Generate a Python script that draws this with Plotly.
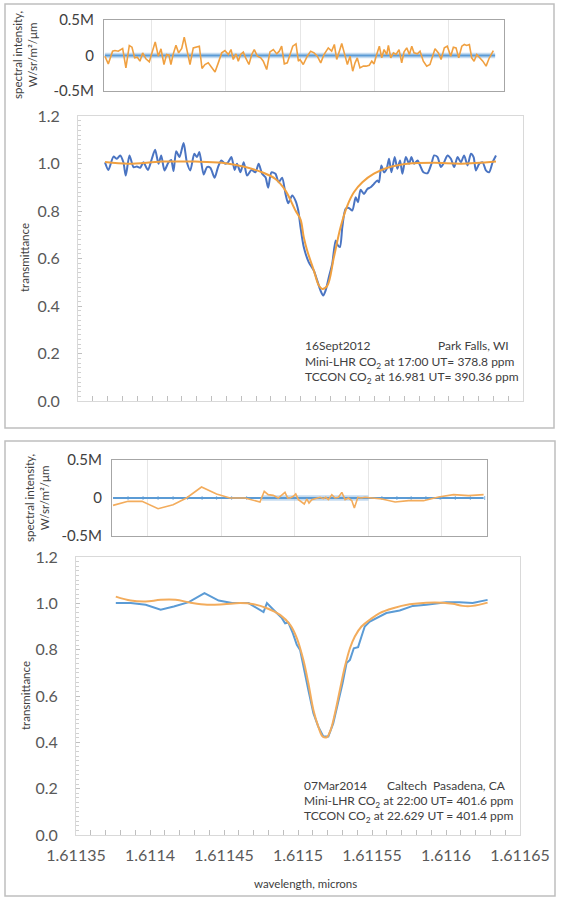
import plotly.graph_objects as go

W, H = 562, 900

# ---------------- 16 Sept 2012, Park Falls, WI ----------------
wl_meas_2012 = [
    1.6113682, 1.6113705, 1.6113739, 1.6113762, 1.6113784, 1.6113806, 1.6113822, 1.6113847, 1.6113874, 1.6113897,
    1.6113919, 1.6113941, 1.6113971, 1.6113998, 1.6114020, 1.6114043, 1.6114061, 1.6114083, 1.6114110, 1.6114128,
    1.6114144, 1.6114162, 1.6114184, 1.6114212, 1.6114234, 1.6114257, 1.6114284, 1.6114302, 1.6114318, 1.6114347,
    1.6114370, 1.6114392, 1.6114421, 1.6114444, 1.6114466, 1.6114493, 1.6114512, 1.6114534, 1.6114556, 1.6114572,
    1.6114595, 1.6114617, 1.6114640, 1.6114669, 1.6114696, 1.6114718, 1.6114741, 1.6114764, 1.6114782, 1.6114804,
    1.6114831, 1.6114853, 1.6114876, 1.6114899, 1.6114917, 1.6114944, 1.6114966, 1.6114985,
    1.6115000, 1.6115022, 1.6115056, 1.6115090, 1.6115113, 1.6115135, 1.6115153, 1.6115169, 1.6115191, 1.6115214,
    1.6115237, 1.6115252, 1.6115266, 1.6115282, 1.6115304, 1.6115326, 1.6115349, 1.6115372, 1.6115387, 1.6115405,
    1.6115428, 1.6115451, 1.6115473, 1.6115495, 1.6115518, 1.6115529, 1.6115545, 1.6115563, 1.6115581, 1.6115597,
    1.6115613, 1.6115635, 1.6115653, 1.6115671, 1.6115687, 1.6115710, 1.6115732, 1.6115748, 1.6115766, 1.6115789,
    1.6115806, 1.6115829, 1.6115856, 1.6115883, 1.6115901, 1.6115924, 1.6115946, 1.6115968, 1.6115991, 1.6116014,
    1.6116036, 1.6116059, 1.6116081, 1.6116103, 1.6116126, 1.6116149, 1.6116167, 1.6116182, 1.6116205, 1.6116228,
    1.6116250, 1.6116272, 1.6116295, 1.6116318]
trans_meas_2012 = [
    1.005, 0.973, 1.029, 1.020, 1.034, 1.005, 0.949, 1.034, 0.985, 0.987,
    0.982, 1.005, 0.973, 1.020, 1.058, 0.999, 1.034, 0.971, 1.005, 1.015,
    0.968, 1.052, 1.027, 1.086, 1.005, 0.971, 1.041, 1.027, 1.048, 0.954,
    0.985, 0.982, 0.940, 0.985, 1.013, 0.999, 1.005, 1.027, 0.973, 0.999,
    0.963, 1.005, 0.949, 0.973, 0.963, 0.999, 0.957, 0.942, 0.898, 0.963,
    0.957, 0.921, 0.940, 0.872, 0.833, 0.865, 0.844, 0.802,
    0.732, 0.648, 0.584, 0.549, 0.507, 0.465, 0.444, 0.465, 0.521, 0.578,
    0.676, 0.655, 0.648, 0.732, 0.809, 0.813, 0.802, 0.858, 0.837, 0.889,
    0.872, 0.893, 0.900, 0.914, 0.928, 0.921, 0.992, 0.963, 0.978, 1.020,
    0.963, 1.027, 0.978, 1.013, 0.957, 1.027, 0.999, 1.027, 0.999, 1.013,
    0.992, 0.963, 0.959, 0.999, 1.034, 1.027, 0.985, 1.005, 1.034, 1.020,
    0.985, 1.027, 1.005, 1.034, 0.992, 1.041, 1.027, 0.971, 0.999, 1.005,
    0.971, 0.963, 1.005, 1.034]
wl_model_2012 = [
    1.6113682, 1.6113840, 1.6114066, 1.6114291, 1.6114471, 1.6114628, 1.6114741, 1.6114831, 1.6114899, 1.6114966,
    1.6115000, 1.6115022, 1.6115045, 1.6115090, 1.6115124, 1.6115147, 1.6115181, 1.6115225, 1.6115270, 1.6115316,
    1.6115360, 1.6115417, 1.6115495, 1.6115586, 1.6115721, 1.6115901, 1.6116081, 1.6116318]
trans_model_2012 = [
    1.006, 0.999, 1.008, 1.008, 1.003, 0.985, 0.963, 0.935, 0.886, 0.802,
    0.765, 0.690, 0.634, 0.549, 0.486, 0.472, 0.486, 0.605, 0.732, 0.823,
    0.879, 0.921, 0.957, 0.982, 0.999, 1.003, 0.999, 1.008]
wl_resid_2012 = [
    1.6113682, 1.6113705, 1.6113734, 1.6113750, 1.6113772, 1.6113802, 1.6113824, 1.6113847, 1.6113865, 1.6113883,
    1.6113901, 1.6113919, 1.6113937, 1.6113959, 1.6113982, 1.6114005, 1.6114022, 1.6114043, 1.6114061, 1.6114081,
    1.6114099, 1.6114115, 1.6114128, 1.6114144, 1.6114162, 1.6114180, 1.6114201, 1.6114218, 1.6114239, 1.6114257,
    1.6114279, 1.6114302, 1.6114320, 1.6114338, 1.6114358, 1.6114380, 1.6114403, 1.6114426, 1.6114448, 1.6114471,
    1.6114493, 1.6114516, 1.6114534, 1.6114549, 1.6114568, 1.6114583, 1.6114599, 1.6114617, 1.6114633, 1.6114655,
    1.6114674, 1.6114691, 1.6114712, 1.6114735, 1.6114752, 1.6114775, 1.6114797, 1.6114820, 1.6114843, 1.6114860,
    1.6114876, 1.6114894, 1.6114914, 1.6114933, 1.6114951, 1.6114973, 1.6114989,
    1.6115000, 1.6115022, 1.6115049, 1.6115072, 1.6115095, 1.6115117, 1.6115140, 1.6115162, 1.6115191, 1.6115214,
    1.6115232, 1.6115248, 1.6115266, 1.6115282, 1.6115299, 1.6115320, 1.6115338, 1.6115356, 1.6115372, 1.6115387,
    1.6115405, 1.6115428, 1.6115446, 1.6115468, 1.6115485, 1.6115500, 1.6115518, 1.6115536, 1.6115552, 1.6115568,
    1.6115586, 1.6115597, 1.6115613, 1.6115631, 1.6115649, 1.6115669, 1.6115687, 1.6115703, 1.6115721, 1.6115739,
    1.6115755, 1.6115770, 1.6115793, 1.6115811, 1.6115833, 1.6115856, 1.6115878, 1.6115897, 1.6115912, 1.6115935,
    1.6115953, 1.6115975, 1.6115995, 1.6116018, 1.6116036, 1.6116054, 1.6116072, 1.6116093, 1.6116110, 1.6116126,
    1.6116144, 1.6116160, 1.6116176, 1.6116194, 1.6116216, 1.6116235, 1.6116257, 1.6116277, 1.6116306]
resid_2012_M = [
    -0.010, -0.118, 0.061, 0.070, 0.061, 0.099, -0.174, 0.141, 0.117, -0.033,
    -0.024, -0.080, 0.037, -0.047, -0.089, 0.070, 0.192, -0.010, 0.094, -0.127,
    0.014, 0.004, -0.127, 0.023, 0.145, 0.037, 0.099, 0.258, 0.037, -0.127,
    0.107, 0.117, 0.131, -0.183, -0.127, -0.104, -0.165, -0.231, -0.104, 0.037,
    0.070, 0.014, 0.084, -0.056, 0.023, -0.080, 0.014, 0.047, -0.033, -0.127,
    0.014, 0.084, -0.010, -0.033, -0.080, -0.197, 0.051, 0.084, 0.023, 0.061,
    0.131, -0.118, -0.104, 0.014, 0.131, 0.164, -0.080,
    -0.056, -0.127, -0.010, 0.061, 0.037, -0.010, -0.104, 0.014, 0.107, 0.061,
    0.155, -0.056, 0.061, 0.169, 0.037, -0.127, -0.010, -0.221, -0.104, -0.033,
    -0.174, -0.150, -0.150, -0.137, -0.080, -0.118, 0.014, 0.131, -0.033, 0.084,
    0.014, 0.141, -0.033, 0.037, 0.014, 0.084, -0.104, 0.051, 0.107, 0.014,
    0.131, 0.037, 0.023, 0.061, -0.080, -0.150, -0.127, 0.014, 0.094, 0.037,
    -0.056, 0.107, 0.131, -0.010, 0.117, 0.107, -0.033, 0.131, 0.155, 0.141,
    0.155, -0.033, -0.080, 0.014, -0.033, -0.080, -0.150, -0.042, 0.070]
zero_wl_2012 = [1.6113682, 1.6116318]
zero_val_2012 = [0.0, 0.0]
band_halfwidth_2012_M = 0.04
resid_range_2012 = [1.6113676, 1.6116378]

# ---------------- 07 Mar 2014, Caltech Pasadena, CA ----------------
wl_meas_2014 = [
    1.6113769, 1.6113870, 1.6113971, 1.6114072, 1.6114161, 1.6114262, 1.6114368, 1.6114464, 1.6114554, 1.6114666,
    1.6114767, 1.6114790, 1.6114834, 1.6114891, 1.6114913, 1.6114935, 1.6114965, 1.6114992, 1.6115014, 1.6115036,
    1.6115070, 1.6115104, 1.6115137, 1.6115171, 1.6115205, 1.6115238, 1.6115272, 1.6115301, 1.6115328, 1.6115351,
    1.6115377, 1.6115406, 1.6115429, 1.6115451, 1.6115485, 1.6115530, 1.6115597, 1.6115687, 1.6115776, 1.6115867,
    1.6116001, 1.6116091, 1.6116180, 1.6116281]
trans_meas_2014 = [
    1.001, 1.001, 0.994, 0.972, 0.986, 1.005, 1.044, 1.012, 1.001, 1.001,
    0.962, 1.001, 0.972, 0.936, 0.914, 0.917, 0.871, 0.821, 0.799, 0.727,
    0.626, 0.526, 0.468, 0.425, 0.425, 0.482, 0.569, 0.655, 0.742, 0.756,
    0.806, 0.811, 0.857, 0.900, 0.921, 0.936, 0.958, 0.969, 0.989, 0.994,
    1.005, 1.005, 1.001, 1.015]
wl_model_2014 = [
    1.6113769, 1.6113870, 1.6113971, 1.6114072, 1.6114173, 1.6114274, 1.6114386, 1.6114498, 1.6114610, 1.6114700,
    1.6114790, 1.6114879, 1.6114947, 1.6114992, 1.6115036, 1.6115070, 1.6115104, 1.6115137, 1.6115167, 1.6115194,
    1.6115221, 1.6115250, 1.6115283, 1.6115317, 1.6115351, 1.6115384, 1.6115429, 1.6115485, 1.6115552, 1.6115642,
    1.6115754, 1.6115867, 1.6115978, 1.6116046, 1.6116113, 1.6116180, 1.6116281]
trans_model_2014 = [
    1.029, 1.012, 1.008, 1.015, 1.015, 1.003, 0.994, 0.996, 1.001, 0.996,
    0.979, 0.950, 0.907, 0.850, 0.756, 0.655, 0.540, 0.468, 0.425, 0.422,
    0.454, 0.526, 0.626, 0.727, 0.806, 0.857, 0.900, 0.929, 0.958, 0.979,
    0.996, 1.003, 1.003, 0.998, 0.989, 0.989, 1.003]
wl_resid_2014 = [
    1.6113766, 1.6113868, 1.6113963, 1.6114072, 1.6114174, 1.6114265, 1.6114367, 1.6114469, 1.6114560, 1.6114662,
    1.6114764, 1.6114793, 1.6114820, 1.6114854, 1.6114888, 1.6114912, 1.6114934, 1.6114952, 1.6114968, 1.6114991,
    1.6115007, 1.6115025, 1.6115048, 1.6115065, 1.6115082, 1.6115097, 1.6115116, 1.6115143, 1.6115172, 1.6115195,
    1.6115211, 1.6115229, 1.6115252, 1.6115274, 1.6115297, 1.6115320, 1.6115342, 1.6115365, 1.6115388, 1.6115405,
    1.6115429, 1.6115451, 1.6115478, 1.6115524, 1.6115592, 1.6115682, 1.6115773, 1.6115875, 1.6115977, 1.6116079,
    1.6116181, 1.6116283]
resid_2014_M = [
    -0.097, -0.044, -0.044, -0.141, -0.088, 0.000, 0.145, 0.053, 0.000, 0.000,
    -0.053, 0.088, 0.044, 0.035, 0.000, 0.044, 0.074, 0.000, 0.000, 0.022,
    0.053, -0.022, -0.053, -0.079, -0.013, -0.066, -0.022, -0.009, 0.009, -0.009,
    0.009, -0.022, 0.044, 0.000, 0.009, 0.074, -0.022, 0.000, -0.035, -0.132,
    0.009, 0.000, 0.009, 0.000, -0.013, -0.053, -0.035, -0.035, 0.013, 0.044,
    0.031, 0.044]
zero_wl_2014 = [1.6113766, 1.6116283]
zero_val_2014 = [0.0, 0.0]
errbar_wl_2014 = [
    1.6113868, 1.6113970, 1.6114072, 1.6114174, 1.6114272, 1.6114371, 1.6114469, 1.6114571, 1.6114673,
    1.6115592, 1.6115694, 1.6115791, 1.6115891, 1.6115988, 1.6116091, 1.6116193, 1.6116290]
errbar_halfwidth_2014_M = 0.025
band_wl_2014 = [1.6114776, 1.6115501]
band_halfwidth_2014_M = 0.035
resid_range_2014 = [1.6113759, 1.6116306]

# ---------------- axes / labels ----------------
x_range_main = [1.61135, 1.61165]
x_tick0 = 1.61135
x_dtick = 0.00005
x_minor_dtick = 0.00001
trans_range = [0, 1.2]
trans_dtick = 0.2
resid_range_M = [-0.5, 0.5]
resid_tickvals = [-0.5, 0, 0.5]
resid_ticktext = ['-0.5M', '0', '0.5M']

notes_2012 = ['16Sept2012', 'Park Falls, WI',
              'Mini-LHR CO<sub>2</sub> at 17:00 UT= 378.8 ppm',
              'TCCON CO<sub>2</sub> at 16.981 UT= 390.36 ppm']
notes_2014 = ['07Mar2014', 'Caltech  Pasadena, CA',
              'Mini-LHR CO<sub>2</sub> at 22:00 UT= 401.6 ppm',
              'TCCON CO<sub>2</sub> at 22.629 UT = 401.4 ppm']

FONT = 'Lato, Open Sans, sans-serif'
BLUE_DARK = '#4A74C2'
BLUE = '#5B9BD5'
ORANGE = '#F0A040'
ORANGE_LIGHT = '#F3AC5C'
BAND = 'rgba(157,195,230,0.6)'


def dx(a, b):
    return [a / W, b / W]


def dy(top, bottom):
    return [1 - bottom / H, 1 - top / H]


def px(x):
    return x / W


def py(y):
    return 1 - y / H


fig = go.Figure()

# --- 2012 residual panel ---
fig.add_trace(go.Scatter(
    x=[zero_wl_2012[0], zero_wl_2012[1], zero_wl_2012[1], zero_wl_2012[0]],
    y=[-band_halfwidth_2012_M, -band_halfwidth_2012_M, band_halfwidth_2012_M, band_halfwidth_2012_M],
    fill='toself', fillcolor=BAND, line=dict(width=0), mode='lines',
    xaxis='x', yaxis='y', hoverinfo='skip'))
fig.add_trace(go.Scatter(x=zero_wl_2012, y=zero_val_2012, mode='lines',
                         line=dict(color=BLUE, width=2), xaxis='x', yaxis='y'))
fig.add_trace(go.Scatter(x=wl_resid_2012, y=resid_2012_M, mode='lines',
                         line=dict(color=ORANGE, width=1.6), xaxis='x', yaxis='y'))

# --- 2012 transmittance panel ---
fig.add_trace(go.Scatter(x=wl_meas_2012, y=trans_meas_2012, mode='lines',
                         line=dict(color=BLUE_DARK, width=2, shape='spline', smoothing=0.7),
                         xaxis='x2', yaxis='y2'))
fig.add_trace(go.Scatter(x=wl_model_2012, y=trans_model_2012, mode='lines',
                         line=dict(color=ORANGE, width=2, shape='spline', smoothing=1.0),
                         xaxis='x2', yaxis='y2'))

# --- 2014 residual panel ---
fig.add_trace(go.Scatter(
    x=[band_wl_2014[0], band_wl_2014[1], band_wl_2014[1], band_wl_2014[0]],
    y=[-band_halfwidth_2014_M, -band_halfwidth_2014_M, band_halfwidth_2014_M, band_halfwidth_2014_M],
    fill='toself', fillcolor=BAND, line=dict(width=0), mode='lines',
    xaxis='x3', yaxis='y3', hoverinfo='skip'))
fig.add_trace(go.Scatter(x=errbar_wl_2014, y=[0.0] * len(errbar_wl_2014), mode='markers',
                         marker=dict(size=1, color=BLUE, opacity=0),
                         error_y=dict(type='constant', value=errbar_halfwidth_2014_M,
                                      color='#9DC3E6', thickness=1.2, width=0),
                         xaxis='x3', yaxis='y3'))
fig.add_trace(go.Scatter(x=zero_wl_2014, y=zero_val_2014, mode='lines',
                         line=dict(color=BLUE, width=2), xaxis='x3', yaxis='y3'))
fig.add_trace(go.Scatter(x=wl_resid_2014, y=resid_2014_M, mode='lines',
                         line=dict(color=ORANGE_LIGHT, width=1.6), xaxis='x3', yaxis='y3'))

# --- 2014 transmittance panel ---
fig.add_trace(go.Scatter(x=wl_meas_2014, y=trans_meas_2014, mode='lines',
                         line=dict(color=BLUE, width=2), xaxis='x4', yaxis='y4'))
fig.add_trace(go.Scatter(x=wl_model_2014, y=trans_model_2014, mode='lines',
                         line=dict(color=ORANGE_LIGHT, width=2, shape='spline', smoothing=1.0),
                         xaxis='x4', yaxis='y4'))

resid_x_common = dict(tick0=x_tick0, dtick=x_dtick, showticklabels=False, ticks='',
                      showgrid=True, gridcolor='#E6E6E6', gridwidth=1, zeroline=False,
                      showline=True, linecolor='#A6A6A6', linewidth=1, mirror=True,
                      automargin=False)
resid_y_common = dict(range=resid_range_M, tickmode='array', tickvals=resid_tickvals,
                      ticktext=resid_ticktext, showgrid=False, zeroline=False,
                      showline=True, linecolor='#A6A6A6', linewidth=1, mirror=True, ticks='',
                      tickfont=dict(family=FONT, size=15, color='#404040'), ticklabelstandoff=6,
                      automargin=False)
main_x_common = dict(range=x_range_main, tick0=x_tick0, dtick=x_dtick, tickformat='.5~f',
                     ticks='inside', ticklen=5, tickcolor='#BFBFBF',
                     minor=dict(dtick=x_minor_dtick, ticks='inside', ticklen=5, tickcolor='#BFBFBF'),
                     showgrid=False, zeroline=False, showline=True, linecolor='#D9D9D9',
                     linewidth=1, mirror=True, automargin=False,
                     tickfont=dict(family=FONT, size=16, color='#595959'))
main_y_common = dict(range=trans_range, dtick=trans_dtick, tickformat='.1f',
                     ticks='inside', ticklen=4, tickcolor='#BFBFBF',
                     minor=dict(dtick=0.02, ticks='inside', ticklen=3, tickcolor='#D0D0D0'),
                     showgrid=False, zeroline=False, showline=True, linecolor='#D9D9D9',
                     linewidth=1, mirror=True, ticklabelstandoff=14, automargin=False,
                     tickfont=dict(family=FONT, size=16, color='#595959'))

fig.update_layout(
    width=W, height=H, margin=dict(l=0, r=0, t=0, b=0, pad=0), autosize=False,
    paper_bgcolor='white', plot_bgcolor='white', showlegend=False,
    xaxis=dict(domain=dx(104, 504), range=resid_range_2012, anchor='y', **resid_x_common),
    yaxis=dict(domain=dy(20, 91), anchor='x', **resid_y_common),
    xaxis2=dict(domain=dx(78, 523), anchor='y2', showticklabels=False, **main_x_common),
    yaxis2=dict(domain=dy(116, 401), anchor='x2', **main_y_common),
    xaxis3=dict(domain=dx(112, 487), range=resid_range_2014, anchor='y3', **resid_x_common),
    yaxis3=dict(domain=dy(460, 536), anchor='x3', **resid_y_common),
    xaxis4=dict(domain=dx(76, 520), anchor='y4', showticklabels=True, ticklabelstandoff=6,
                **main_x_common),
    yaxis4=dict(domain=dy(557, 835), anchor='x4', **main_y_common),
)

# panel frames
for (x0, y0, x1, y1) in [(5, 4, 554, 428), (5, 441, 555, 896)]:
    fig.add_shape(type='rect', xref='paper', yref='paper',
                  x0=px(x0), x1=px(x1), y0=py(y1), y1=py(y0),
                  line=dict(color='#BFBFBF', width=1.5), fillcolor='rgba(0,0,0,0)')

ann_font = dict(family=FONT, size=12, color='#404040')
title_font = dict(family=FONT, size=11.5, color='#404040')


def note(text, x, y, anchor):
    fig.add_annotation(text=text, x=px(x), y=py(y), xref='paper', yref='paper',
                       xanchor=anchor, yanchor='middle', showarrow=False, font=ann_font)


note(notes_2012[0], 303, 346, 'left')
note(notes_2012[1], 511, 346, 'right')
note(notes_2012[2], 303, 362, 'left')
note(notes_2012[3], 303, 378, 'left')
note(notes_2014[0], 302, 785, 'left')
note(notes_2014[1], 508, 785, 'right')
note(notes_2014[2], 302, 801, 'left')
note(notes_2014[3], 302, 816, 'left')


def vtitle(text, x, y):
    fig.add_annotation(text=text, x=px(x), y=py(y), xref='paper', yref='paper',
                       xanchor='center', yanchor='middle', showarrow=False,
                       textangle=-90, font=title_font)


vtitle('spectral intensity,<br>W/sr/m²/μm', 25, 55)
vtitle('transmittance', 25, 258)
vtitle('spectral intensity,<br>W/sr/m²/μm', 37, 498)
vtitle('transmittance', 25, 696)
fig.add_annotation(text='wavelength, microns', x=px(305), y=py(883), xref='paper', yref='paper',
                   xanchor='center', yanchor='middle', showarrow=False, font=title_font)

fig.write_html('out.html', config={'displayModeBar': False},
               post_script="document.body.style.margin='0';document.body.style.overflow='hidden';")
